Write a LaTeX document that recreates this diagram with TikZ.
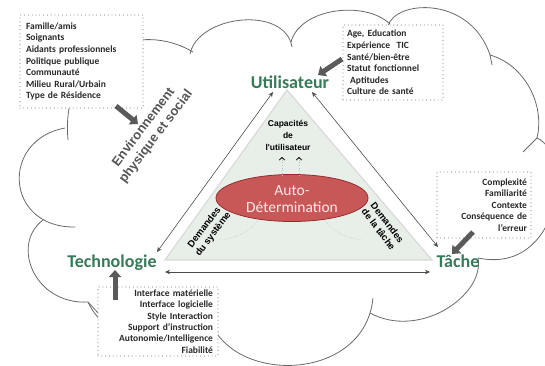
\documentclass[tikz,border=0pt]{standalone}
\usepackage{fontspec}
\setmainfont{Carlito}
\newfontfamily\arialfont{Liberation Sans}
\usetikzlibrary{arrows.meta,shapes.geometric}
\definecolor{labgreen}{RGB}{55,122,88}
\definecolor{trifill}{RGB}{232,238,232}
\definecolor{ellfill}{RGB}{200,88,88}
\definecolor{elldraw}{RGB}{150,45,45}
\definecolor{ellltext}{RGB}{252,232,232}
\definecolor{blockgray}{RGB}{90,90,90}
\definecolor{cloudgray}{RGB}{105,105,105}
\definecolor{boxtext}{RGB}{40,40,40}
\definecolor{envgray}{RGB}{85,85,85}
\begin{document}
\begin{tikzpicture}[x=1pt,y=-1pt,
  cloud/.style={draw=cloudgray, line width=0.8pt},
  infobox/.style={draw=gray!75, line width=1.3pt, line cap=round, dash pattern=on 0pt off 3.8pt,
     fill=white, inner ysep=2pt, text=boxtext, font=\fontsize{9.5}{11.6}\selectfont\bfseries},
  corner/.style={font=\fontsize{18}{20}\selectfont\bfseries, text=labgreen, inner sep=0pt},
  side/.style={draw=gray!60!black, line width=0.6pt, {Stealth[length=5pt,width=4.5pt]}-{Stealth[length=5pt,width=4.5pt]}},
  block/.style={draw=blockgray, line width=5pt, -{Triangle[length=7pt,width=12pt]}},
  faint/.style={draw=gray!55, dotted, line width=0.6pt},
  caret/.style={faint, -{Straight Barb[length=2.5pt,width=5.5pt,color=black,line width=0.8pt]}},
  arialb/.style 2 args={font=\arialfont\bfseries\fontsize{#1}{#2}\selectfont}
]
\useasboundingbox (0,0) rectangle (545,365);
\clip (0,0) rectangle (545,365);

% cloud outline
\draw[cloud] (68,140) .. controls (60,50) and (140,20) .. (193,52);
\draw[cloud] (190,54) .. controls (198,15) and (285,5) .. (292,47);
\draw[cloud] (291,42) .. controls (300,8) and (365,0) .. (390,24);
\draw[cloud] (388,26) .. controls (395,0) and (470,-5) .. (490,55);
\draw[cloud] (490,55) .. controls (525,65) and (545,105) .. (537,138);
\draw[cloud] (537,138) .. controls (575,155) and (560,275) .. (478,258);
\draw[cloud] (478,258) .. controls (485,295) and (420,340) .. (370,313);
\draw[cloud] (373,298) .. controls (365,380) and (240,385) .. (212,325);
\draw[cloud] (212,325) .. controls (190,360) and (110,350) .. (88,302);
\draw[cloud] (88,302) .. controls (35,305) and (10,245) .. (43,220);
\draw[cloud] (75,227) .. controls (5,228) and (0,140) .. (65,128);
\draw[cloud] (88,302) -- (100,315);
\draw[cloud] (537,138) -- (523,152);
\draw[cloud] (490,55) -- (492,65);

% triangle
\coordinate (ttop) at (287,90);
\coordinate (tbl) at (165,260);
\coordinate (tbr) at (432,260);
\filldraw[fill=trifill, draw=gray!30, line width=1.2pt] (ttop) -- (tbl) -- (tbr) -- cycle;

% ellipse
\node[ellipse, fill=ellfill, draw=elldraw, line width=0.8pt, minimum width=152pt, minimum height=47pt, inner sep=0pt] (ell) at (292,198) {};
\node[text=ellltext, align=center, font=\fontsize{15.5}{17}\selectfont] (autodet) at (292,199) {Auto-\\Détermination};

% inner labels
\node[arialb={8.5}{12}, align=center, inner sep=0pt] (capa) at (288,135) {Capacités\\de\\l'utilisateur};
\coordinate (c1a) at (282,176); \coordinate (c1b) at (282,157);
\coordinate (c2a) at (299,176); \coordinate (c2b) at (299,157);
\draw[caret] (c1a) -- (c1b);
\draw[caret] (c2a) -- (c2b);
\node[arialb={9.5}{11}, align=center, rotate=53, inner sep=0pt] (dsys) at (209,231) {Demandes\\du système};
\node[arialb={9.5}{11}, align=center, rotate=-53, inner sep=0pt] (dtache) at (383,226) {Demandes\\de la tâche};
\coordinate (f1a) at (220,240); \coordinate (f1b) at (258,220);
\coordinate (f2a) at (362,240); \coordinate (f2b) at (325,220);
\draw[faint] (f1a) .. controls (236,238) and (250,232) .. (f1b);
\draw[faint] (f2a) .. controls (346,238) and (333,232) .. (f2b);

% corner labels
\node[corner, anchor=base] (util) at (290,88) {Utilisateur};
\node[corner, anchor=base] (techno) at (112,267) {Technologie};
\node[corner, anchor=base] (tache) at (458,267) {Tâche};

% side arrows
\coordinate (l1) at (157,252); \coordinate (l2) at (273,92);
\coordinate (r1) at (312,92); \coordinate (r2) at (438,247);
\coordinate (b1) at (165,272); \coordinate (b2) at (430,272);
\draw[side] (l1) -- (l2);
\draw[side] (r1) -- (r2);
\draw[side] (b1) -- (b2);

% environment text
\node[arialb={13}{15.5}, text=envgray, align=center, rotate=53, inner sep=0pt] (env) at (150,132) {Environnement\\physique et social};

% info boxes
\node[infobox, minimum width=123pt, minimum height=93pt, text width=111pt, inner xsep=6pt, align=left] (box1) at (81.5,61.5)
 {Famille/amis\\Soignants\\Aidants professionnels\\Politique publique\\Communauté\\Milieu Rural/Urbain\\Type de Résidence};
\node[infobox, minimum width=100pt, minimum height=75pt, text width=92pt, inner xsep=4pt, align=left] (box2) at (393,62.5)
 {Age, Education\\Expérience\ \ TIC\\Santé/bien-être\\Statut fonctionnel\\\ Aptitudes\\Culture de santé};
\node[infobox, minimum width=94pt, minimum height=66pt, text width=86pt, inner xsep=4pt, align=right] (box3) at (484,205)
 {Complexité\\Familiarité\\Contexte\\Conséquence de\\l’erreur};
\node[infobox, minimum width=120pt, minimum height=69pt, text width=110pt, inner xsep=5pt, align=right, font=\fontsize{9.5}{11.3}\selectfont\bfseries] (box4) at (158,321.5)
 {Interface matérielle\\Interface logicielle\\Style Interaction\\Support d’instruction\\Autonomie/Intelligence\\Fiabilité};

% block arrows
\coordinate (a1s) at (116,106); \coordinate (a1e) at (138,124);
\coordinate (a2s) at (342,59); \coordinate (a2e) at (318,75);
\coordinate (a3s) at (473,232); \coordinate (a3e) at (452,254);
\coordinate (a4s) at (115,300); \coordinate (a4e) at (115,270);
\draw[block] (a1s) -- (a1e);
\draw[block] (a2s) -- (a2e);
\draw[block] (a3s) -- (a3e);
\draw[block] (a4s) -- (a4e);
\end{tikzpicture}
\end{document}
